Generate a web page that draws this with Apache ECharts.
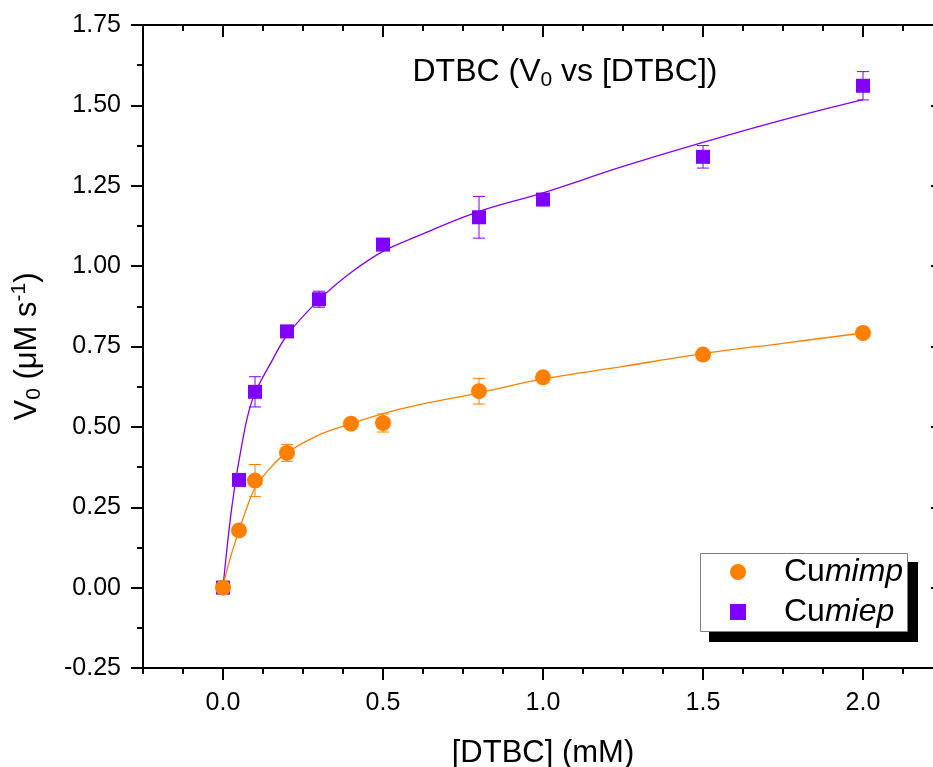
<!DOCTYPE html>
<html><head><meta charset="utf-8">
<script src="https://cdn.jsdelivr.net/npm/echarts@6/dist/echarts.min.js"></script>
<style>html,body{margin:0;padding:0;background:#fff}#c{width:933px;height:767px}</style>
</head><body><div id="c"></div><script>
// ---- data ----
const majorTicksX = [0, 0.5, 1.0, 1.5, 2.0];
const imX   = [0, 0.05, 0.1, 0.2, 0.4, 0.5, 0.8, 1.0, 1.5, 2.0];
const imY   = [0, 0.178, 0.333, 0.419, 0.51, 0.512, 0.611, 0.654, 0.725, 0.792];
const imErr = [0.005, 0.01, 0.05, 0.026, 0.012, 0.028, 0.04, 0.012, 0.012, 0.01];
const iepX   = [0, 0.05, 0.1, 0.2, 0.3, 0.5, 0.8, 1.0, 1.5, 2.0];
const iepY   = [0, 0.335, 0.609, 0.797, 0.897, 1.067, 1.152, 1.207, 1.34, 1.561];
const iepErr = [0.005, 0.01, 0.047, 0.012, 0.025, 0.012, 0.065, 0.012, 0.035, 0.044];
// fitted curves
const imFitX = [0, 0.01, 0.025, 0.05, 0.075, 0.1, 0.15, 0.2, 0.3, 0.4, 0.5, 0.6, 0.8, 1.0, 1.25, 1.5, 1.75, 2.0];
const imFitY = [0, 0.045, 0.10, 0.178, 0.25, 0.31, 0.375, 0.42, 0.475, 0.51, 0.541, 0.566, 0.606, 0.649, 0.688, 0.728, 0.76, 0.792];
const iepFitX = [0, 0.01, 0.025, 0.04, 0.05, 0.075, 0.1, 0.15, 0.2, 0.3, 0.4, 0.5, 0.6, 0.8, 1.0, 1.25, 1.5, 1.75, 2.0];
const iepFitY = [0, 0.1, 0.23, 0.336, 0.395, 0.525, 0.605, 0.70, 0.785, 0.895, 0.98, 1.046, 1.09, 1.17, 1.228, 1.31, 1.385, 1.455, 1.518];

const ORANGE = '#FF8000', PURPLE = '#8000FF';
const FONT = 'Liberation Sans';
const zip = (xs, ys) => xs.map((x, i) => [x, ys[i]]);
const zip3 = (xs, ys, es) => xs.map((x, i) => [x, ys[i], es[i]]);

function errRender(color) {
  return function (params, api) {
    const x = api.value(0), y = api.value(1), e = api.value(2);
    const top = api.coord([x, y + e]);
    const bot = api.coord([x, y - e]);
    const hw = 6;
    const st = { stroke: color, lineWidth: 1 };
    return { type: 'group', children: [
      { type: 'line', shape: { x1: top[0], y1: top[1], x2: bot[0], y2: bot[1] }, style: st },
      { type: 'line', shape: { x1: top[0] - hw, y1: top[1], x2: top[0] + hw, y2: top[1] }, style: st },
      { type: 'line', shape: { x1: bot[0] - hw, y1: bot[1], x2: bot[0] + hw, y2: bot[1] }, style: st }
    ]};
  };
}

const blackLine = { color: '#000', width: 2 };
const xBase = { type: 'value', min: -0.25, max: 2.25, splitLine: { show: false } };
const yBase = { type: 'value', min: -0.25, max: 1.75, interval: 0.25, splitLine: { show: false } };

const chart = echarts.init(document.getElementById('c'), null, { renderer: 'canvas' });
chart.setOption({
  backgroundColor: '#fff',
  animation: false,
  textStyle: { fontFamily: FONT, color: '#000' },
  title: {
    text: '{a|DTBC (V}{s|0}{a| vs [DTBC])}',
    left: 565, top: 53, padding: 0, textAlign: 'center',
    textStyle: {
      fontWeight: 'normal',
      rich: {
        a: { fontFamily: FONT, fontSize: 32, fontWeight: 'normal', color: '#000', lineHeight: 38, verticalAlign: 'middle' },
        s: { fontFamily: FONT, fontSize: 21, fontWeight: 'normal', color: '#000', lineHeight: 21, padding: [16, 0, 0, 0], verticalAlign: 'bottom' }
      }
    }
  },
  graphic: [
    { type: 'rect', shape: { x: 709, y: 562, width: 209, height: 80 }, style: { fill: '#000' }, z: 1, silent: true },
    { type: 'rect', shape: { x: 700.5, y: 553.5, width: 207, height: 78 }, style: { fill: '#fff', stroke: '#808080', lineWidth: 1 }, z: 2, silent: true }
  ],
  grid: { left: 143, top: 25, width: 800, height: 643, containLabel: false, outerBoundsMode: 'none' },
  legend: {
    data: ['Cumimp', 'Cumiep'],
    orient: 'vertical', left: 700, top: 553,
    itemWidth: 16, itemHeight: 16, itemGap: 8,
    padding: [3, 8, 4, 30],
    backgroundColor: 'transparent', borderWidth: 0, z: 10,
    formatter: n => n === 'Cumimp' ? '{sp|}{a|Cu}{b|mimp}' : '{sp|}{a|Cu}{b|miep}',
    textStyle: {
      rich: {
        sp: { width: 33 },
        a: { fontFamily: FONT, fontSize: 32, color: '#000' },
        b: { fontFamily: FONT, fontSize: 32, color: '#000', fontStyle: 'italic' }
      }
    }
  },
  xAxis: [
    Object.assign({}, xBase, {
      position: 'bottom',
      axisLine: { show: true, onZero: false, lineStyle: blackLine },
      axisTick: { show: true, inside: false, length: 12, lineStyle: blackLine, customValues: majorTicksX },
      axisLabel: { show: true, margin: 23, fontSize: 25, fontFamily: FONT, color: '#000',
                   customValues: majorTicksX, formatter: v => v.toFixed(1) },
      name: '[DTBC] (mM)', nameLocation: 'middle', nameGap: 70,
      nameTextStyle: { fontSize: 31, fontFamily: FONT, color: '#000' }
    }),
    Object.assign({}, xBase, {
      position: 'bottom', interval: 0.125,
      axisLine: { show: false, onZero: false },
      axisTick: { show: true, inside: false, length: 6, lineStyle: blackLine },
      axisLabel: { show: false }
    }),
    Object.assign({}, xBase, {
      position: 'top',
      axisLine: { show: true, onZero: false, lineStyle: blackLine },
      axisTick: { show: true, inside: true, length: 12, lineStyle: blackLine, customValues: majorTicksX },
      axisLabel: { show: false }
    }),
    Object.assign({}, xBase, {
      position: 'top', interval: 0.125,
      axisLine: { show: false, onZero: false },
      axisTick: { show: true, inside: true, length: 6, lineStyle: blackLine },
      axisLabel: { show: false }
    })
  ],
  yAxis: [
    Object.assign({}, yBase, {
      position: 'left',
      axisLine: { show: true, onZero: false, lineStyle: blackLine },
      axisTick: { show: true, inside: false, length: 12, lineStyle: blackLine },
      minorTick: { show: true, splitNumber: 2, length: 6, lineStyle: blackLine },
      minorSplitLine: { show: false },
      axisLabel: { show: true, margin: 22, fontSize: 25, fontFamily: FONT, color: '#000', formatter: v => v.toFixed(2) },
      name: '{a|V}{s|0}{a| (μM s}{p|-1}{a|)}', nameLocation: 'middle', nameGap: 98,
      nameTextStyle: {
        rich: {
          a: { fontFamily: FONT, fontSize: 31, color: '#000', lineHeight: 36, verticalAlign: 'middle' },
          s: { fontFamily: FONT, fontSize: 21, color: '#000', lineHeight: 21, padding: [15, 0, 0, 0], verticalAlign: 'bottom' },
          p: { fontFamily: FONT, fontSize: 21, color: '#000', lineHeight: 21, padding: [0, 0, 15, 0], verticalAlign: 'top' }
        }
      }
    }),
    Object.assign({}, yBase, {
      position: 'right',
      axisLine: { show: true, onZero: false, lineStyle: blackLine },
      axisTick: { show: true, inside: true, length: 12, lineStyle: blackLine },
      minorTick: { show: true, splitNumber: 2, length: 6, lineStyle: blackLine },
      minorSplitLine: { show: false },
      axisLabel: { show: false }
    })
  ],
  series: [
    { name: 'fit Cumiep', type: 'line', data: zip(iepFitX, iepFitY), smooth: 0.35, showSymbol: false, symbol: 'none',
      lineStyle: { color: PURPLE, width: 1.3 }, itemStyle: { color: PURPLE }, z: 2, silent: true },
    { name: 'fit Cumimp', type: 'line', data: zip(imFitX, imFitY), smooth: 0.35, showSymbol: false, symbol: 'none',
      lineStyle: { color: ORANGE, width: 1.3 }, itemStyle: { color: ORANGE }, z: 2, silent: true },
    { name: 'err Cumiep', type: 'custom', renderItem: errRender(PURPLE), data: zip3(iepX, iepY, iepErr),
      encode: { x: 0, y: 1 }, z: 3, silent: true },
    { name: 'err Cumimp', type: 'custom', renderItem: errRender(ORANGE), data: zip3(imX, imY, imErr),
      encode: { x: 0, y: 1 }, z: 3, silent: true },
    { name: 'Cumiep', type: 'scatter', data: zip(iepX, iepY), symbol: 'rect', symbolSize: 14,
      itemStyle: { color: PURPLE, opacity: 1 }, z: 4 },
    { name: 'Cumimp', type: 'scatter', data: zip(imX, imY), symbol: 'circle', symbolSize: 16,
      itemStyle: { color: ORANGE, opacity: 1 }, z: 5 }
  ]
});
</script></body></html>
